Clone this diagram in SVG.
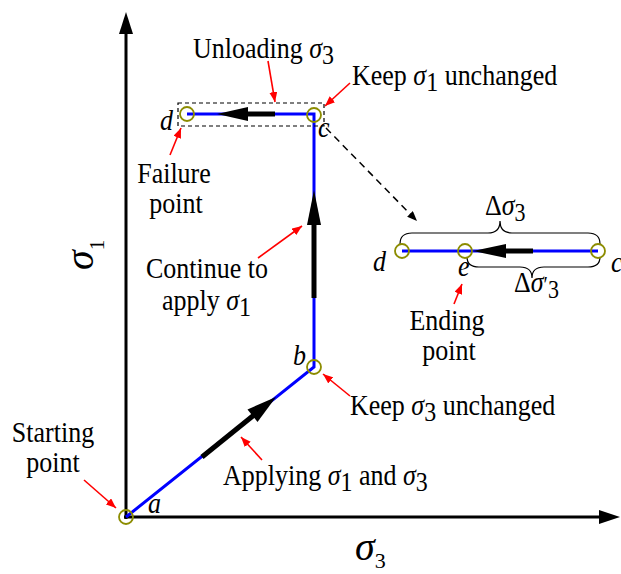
<svg xmlns="http://www.w3.org/2000/svg" width="621" height="574" viewBox="0 0 621 574">
<defs>
<style>
.t{font-family:"Liberation Serif","Times New Roman",serif;font-size:26px;fill:#000}
.i{font-style:italic}
.ax{stroke:#000;stroke-width:3;fill:none}
.blue{stroke:#0000FF;stroke-width:3;fill:none;stroke-linejoin:miter}
.pt{fill:none;stroke:#8C8C00;stroke-width:1.8}
.shaft{stroke:#000;stroke-width:5;fill:none}
.head{fill:#000;stroke:none}
.red{stroke:#FF0000;stroke-width:1.6;fill:none;marker-end:url(#rh)}
.brace{stroke:#000;stroke-width:1.2;fill:none}
</style>
<marker id="rh" viewBox="0 0 10 8" refX="10" refY="4" markerWidth="10" markerHeight="8" markerUnits="userSpaceOnUse" orient="auto">
<path d="M0,0 L10,4 L0,8 Z" fill="#FF0000"/>
</marker>
<marker id="dh" viewBox="0 0 10 8" refX="10" refY="4" markerWidth="10" markerHeight="8" markerUnits="userSpaceOnUse" orient="auto">
<path d="M0,0 L10,4 L0,8 Z" fill="#000"/>
</marker>
</defs>
<rect width="621" height="574" fill="#fff"/>

<g id="axes">
<line class="ax" x1="126" y1="519" x2="126" y2="30"/>
<path class="head" d="M126,12 L133,34 L119,34 Z"/>
<line class="ax" x1="124" y1="517" x2="602" y2="517"/>
<path class="head" d="M620,517 L599,510 L599,524 Z"/>
<text class="t" transform="translate(93,270) rotate(-90)" style="font-size:40px"><tspan class="i">σ</tspan><tspan dy="11" style="font-size:21px">1</tspan></text>
<text class="t" x="355" y="560" style="font-size:40px"><tspan class="i">σ</tspan><tspan dy="8" style="font-size:22px">3</tspan></text>
</g>

<g id="connectors">
<polyline class="blue" points="187,114 314,114 314,367 126,517"/>
<line class="shaft" x1="202" y1="457" x2="254" y2="415"/>
<path class="head" d="M276,397 L257.5,422 L247.5,409.4 Z"/>
<line class="shaft" x1="314" y1="298" x2="314" y2="222"/>
<path class="head" d="M314,190 L321,225 L307,225 Z"/>
<line class="shaft" x1="275" y1="114" x2="245" y2="114"/>
<path class="head" d="M217,114 L248,107 L248,121 Z"/>
<rect x="178" y="103" width="146" height="23" fill="none" stroke="#000" stroke-width="1.2" stroke-dasharray="4,3"/>
<line x1="326" y1="128" x2="417" y2="221" stroke="#000" stroke-width="1.5" stroke-dasharray="7,5" marker-end="url(#dh)"/>
<line class="blue" x1="402" y1="251" x2="598" y2="251"/>
<line class="shaft" x1="533" y1="251" x2="503" y2="251"/>
<path class="head" d="M473,251 L506,244 L506,258 Z"/>
<path class="brace" d="M400,244 Q400,233 412,233 L488,233 Q500,233 500,221 Q500,233 512,233 L588,233 Q600,233 600,244"/>
<path class="brace" d="M467,257 Q467,267 479,267 L520,267 Q532,267 532,278 Q532,267 544,267 L588,267 Q600,267 600,257"/>
<line class="red" x1="268" y1="61" x2="275" y2="102"/>
<line class="red" x1="350" y1="83" x2="325" y2="106"/>
<line class="red" x1="170" y1="155" x2="181" y2="128"/>
<line class="red" x1="258" y1="258" x2="302" y2="226"/>
<line class="red" x1="350" y1="396" x2="323" y2="374"/>
<line class="red" x1="262" y1="460" x2="241" y2="437"/>
<line class="red" x1="84" y1="480" x2="116" y2="508"/>
<line class="red" x1="454" y1="304" x2="462" y2="284"/>
</g>

<g id="node-a">
<circle class="pt" cx="126" cy="517" r="7"/>
<text class="t i" transform="matrix(1,0,0,1.15,148,513)">a</text>
</g>
<g id="node-b">
<circle class="pt" cx="314" cy="367" r="7"/>
<text class="t i" transform="matrix(1,0,0,1.15,293,365)">b</text>
</g>
<g id="node-c">
<circle class="pt" cx="314" cy="115" r="7"/>
<text class="t i" transform="matrix(1,0,0,1.15,318,137)">c</text>
</g>
<g id="node-d">
<circle class="pt" cx="187" cy="114" r="7"/>
<text class="t i" transform="matrix(1,0,0,1.15,160,130)">d</text>
</g>
<g id="node-inset-d">
<circle class="pt" cx="402" cy="251" r="7"/>
<text class="t i" transform="matrix(1,0,0,1.15,373,271)">d</text>
</g>
<g id="node-inset-e">
<circle class="pt" cx="465" cy="251" r="7"/>
<text class="t i" transform="matrix(1,0,0,1.15,458,276)">e</text>
</g>
<g id="node-inset-c">
<circle class="pt" cx="598" cy="251" r="7"/>
<text class="t i" transform="matrix(1,0,0,1.15,611,272)">c</text>
</g>

<g id="labels">
<text class="t" transform="matrix(1,0,0,1.15,193,58)">Unloading <tspan class="i">σ</tspan><tspan dy="5" style="font-size:24px">3</tspan></text>
<text class="t" transform="matrix(1,0,0,1.15,352,85)">Keep <tspan class="i">σ</tspan><tspan dy="5" style="font-size:24px">1</tspan><tspan dy="-5"> unchanged</tspan></text>
<text class="t" text-anchor="middle" transform="matrix(1,0,0,1.15,174,183)">Failure</text>
<text class="t" text-anchor="middle" transform="matrix(1,0,0,1.15,176,213)">point</text>
<text class="t" text-anchor="middle" transform="matrix(1,0,0,1.15,207,278)">Continue to</text>
<text class="t" transform="matrix(1,0,0,1.15,162,310)">apply <tspan class="i">σ</tspan><tspan dy="5" style="font-size:24px">1</tspan></text>
<text class="t" transform="matrix(1,0,0,1.15,350,415)">Keep <tspan class="i">σ</tspan><tspan dy="5" style="font-size:24px">3</tspan><tspan dy="-5"> unchanged</tspan></text>
<text class="t" transform="matrix(1,0,0,1.15,223,485)">Applying <tspan class="i">σ</tspan><tspan dy="5" style="font-size:24px">1</tspan><tspan dy="-5"> and </tspan><tspan class="i">σ</tspan><tspan dy="5" style="font-size:24px">3</tspan></text>
<text class="t" text-anchor="middle" transform="matrix(1,0,0,1.15,53,442)">Starting</text>
<text class="t" text-anchor="middle" transform="matrix(1,0,0,1.15,53,472)">point</text>
<text class="t" text-anchor="middle" transform="matrix(1,0,0,1.15,447,330)">Ending</text>
<text class="t" text-anchor="middle" transform="matrix(1,0,0,1.15,449,360)">point</text>
<text class="t" transform="matrix(1,0,0,1.15,485,215)">Δ<tspan class="i">σ</tspan><tspan dy="5" style="font-size:22px">3</tspan></text>
<text class="t" transform="matrix(1,0,0,1.15,514,292)">Δ<tspan class="i">σ</tspan><tspan style="font-size:20px">′</tspan><tspan dy="5" style="font-size:22px">3</tspan></text>
</g>
</svg>
